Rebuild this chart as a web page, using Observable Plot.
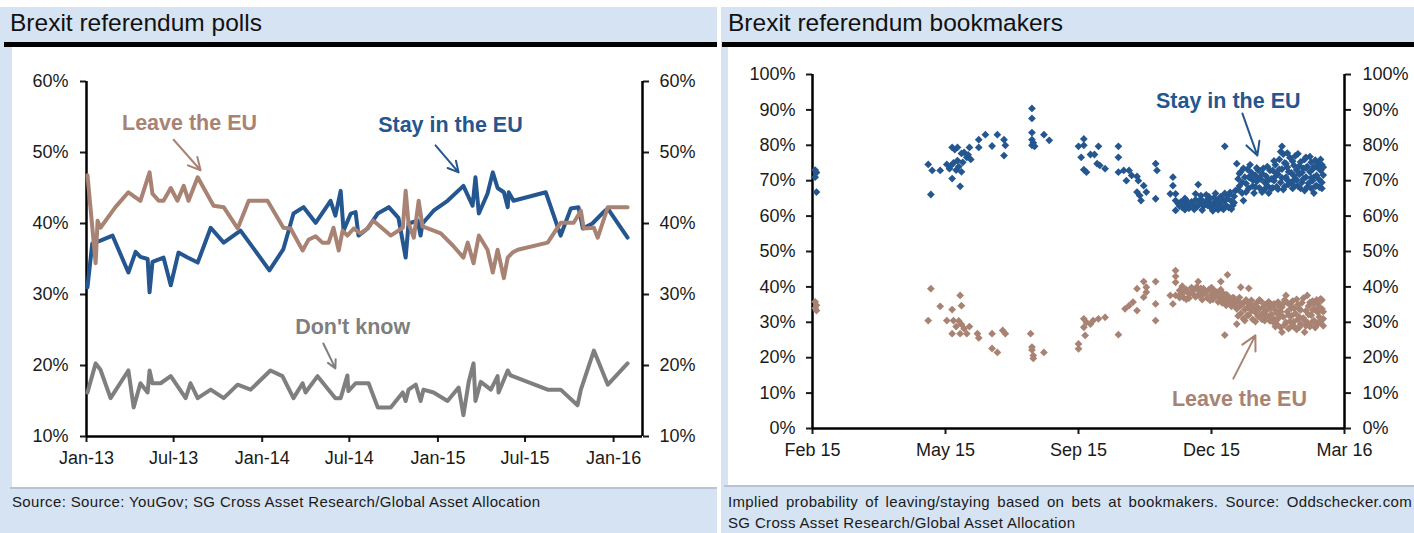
<!DOCTYPE html>
<html>
<head>
<meta charset="utf-8">
<script src="https://cdn.jsdelivr.net/npm/d3@7"></script>
<script src="https://cdn.jsdelivr.net/npm/@observablehq/plot@0.6"></script>
<style>
  html, body { margin: 0; padding: 0; }
  body { width: 1414px; height: 533px; background: #fff; position: relative; overflow: hidden;
         font-family: Arial, "Liberation Sans", Helvetica, sans-serif; color: #111; }
  .abs { position: absolute; }
  .bg { background: #d5e3f2; }
  .title { font-size: 24.5px; line-height: 28px; white-space: nowrap; color: #111; }
  .rule { background: #000; height: 5px; }
  .white { background: #fff; }
  .foot { font-size: 15px; line-height: 21px; letter-spacing: 0.35px; white-space: nowrap; color: #1a1a1a; }
  .footline { background: #b6c4d3; height: 2px; }
</style>
</head>
<body>
<div class="abs bg" style="left:0;top:7px;width:717px;height:526px"></div>
<div class="abs bg" style="left:721px;top:7px;width:693px;height:526px"></div>
<div class="abs title" style="left:10px;top:9px">Brexit referendum polls</div>
<div class="abs title" style="left:728px;top:9px">Brexit referendum bookmakers</div>
<div class="abs rule" style="left:4px;top:42px;width:713px"></div>
<div class="abs rule" style="left:722px;top:42px;width:692px"></div>
<div class="abs white" style="left:12px;top:47px;width:705px;height:440px"></div>
<div class="abs white" style="left:728px;top:47px;width:686px;height:438px"></div>
<div class="abs footline" style="left:10px;top:487px;width:707px"></div>
<div class="abs footline" style="left:724px;top:485px;width:690px"></div>
<div class="abs" id="pollChart" style="left:12px;top:48px"></div>
<div class="abs" id="bookChart" style="left:728px;top:48px"></div>
<div class="abs foot" style="left:12px;top:491px">Source: Source: YouGov; SG Cross Asset Research/Global Asset Allocation</div>
<div class="abs foot" style="left:728px;top:491px;word-spacing:2.6px">Implied probability of leaving/staying based on bets at bookmakers. Source: Oddschecker.com</div>
<div class="abs foot" style="left:728px;top:512px">SG Cross Asset Research/Global Asset Allocation</div>

<script>
// ---------------- colours ----------------
const BLUE = "#24568f";
const BROWN = "#a88373";
const GRAY = "#7f7f7f";

// ---------------- Left chart: YouGov polls (date, %) ----------------
const pollStay = [
  ["2013-01-03",31],["2013-01-13",37.2],["2013-01-30",37.6],["2013-02-24",38.3],["2013-03-29",33.1],
  ["2013-04-13",36],["2013-04-23",35.3],["2013-05-08",35],["2013-05-12",30.3],["2013-05-18",34.6],
  ["2013-06-10",35.2],["2013-06-25",31.3],["2013-07-11",35.9],["2013-07-30",35.2],["2013-08-20",34.5],
  ["2013-09-16",39.4],["2013-10-13",37.3],["2013-11-17",39],["2013-12-14",36.5],["2014-01-16",33.4],
  ["2014-02-14",36.4],["2014-03-07",41.4],["2014-03-28",42.3],["2014-04-22",40.1],["2014-05-23",43.2],
  ["2014-06-02",41.1],["2014-06-13",44.6],["2014-06-19",39],["2014-07-04",41.4],["2014-07-14",41.6],
  ["2014-07-20",38.3],["2014-08-08",39.3],["2014-08-29",41.4],["2014-09-21",42.3],["2014-10-11",40.8],
  ["2014-10-26",35.2],["2014-11-01",40],["2014-11-20",40.4],["2014-11-26",38.3],["2014-11-30",40],
  ["2014-12-23",41.8],["2015-01-21",43.2],["2015-02-23",45.3],["2015-03-14",42.5],["2015-03-20",46.5],
  ["2015-03-27",41.4],["2015-04-14",44.2],["2015-04-25",47.2],["2015-05-05",45],["2015-05-18",44.4],
  ["2015-05-26",42.3],["2015-05-28",44.4],["2015-06-07",43.2],["2015-08-13",44.4],["2015-09-13",38.3],
  ["2015-10-04",42.1],["2015-10-20",42.3],["2015-10-29",39.3],["2015-11-18",40],["2015-12-11",41.6],
  ["2015-12-20",42.1],["2016-01-30",38]
];
const pollLeave = [
  ["2013-01-03",46.8],["2013-01-20",34.4],["2013-01-24",40.4],["2013-01-30",39.4],["2013-03-02",42.3],
  ["2013-03-29",44.4],["2013-04-23",43.2],["2013-05-12",47.2],["2013-05-18",44.2],["2013-05-31",43.2],
  ["2013-06-10",43.2],["2013-06-25",45],["2013-07-09",43.2],["2013-07-22",45.3],["2013-08-01",43.2],
  ["2013-08-20",46.5],["2013-09-22",42.5],["2013-10-13",42.3],["2013-11-11",39.3],["2013-12-04",43.2],
  ["2014-01-12",43.2],["2014-02-14",39.4],["2014-03-01",39.3],["2014-03-26",36.2],["2014-04-07",37.7],
  ["2014-04-22",38.2],["2014-05-06",37.3],["2014-05-19",37.3],["2014-05-29",39.4],["2014-06-09",36.2],
  ["2014-06-17",39],["2014-06-27",38.3],["2014-07-10",39.3],["2014-07-24",38.6],["2014-08-08",39.3],
  ["2014-08-20",40.4],["2014-09-25",38.3],["2014-10-20",39.4],["2014-10-26",44.6],["2014-11-01",40],
  ["2014-11-12",38],["2014-11-22",43.2],["2014-11-30",39.6],["2015-01-07",38.6],["2015-02-01",36.9],
  ["2015-02-23",35.2],["2015-03-04",37.3],["2015-03-16",34.4],["2015-03-27",38.3],["2015-04-14",36.3],
  ["2015-04-25",33.1],["2015-05-05",36.3],["2015-05-18",32.3],["2015-05-26",35.2],["2015-06-05",35.9],
  ["2015-06-16",36.3],["2015-08-17",37.3],["2015-09-13",40.1],["2015-10-10",40.1],["2015-10-25",41.8],
  ["2015-10-31",39.3],["2015-11-21",39.4],["2015-11-29",38],["2015-12-20",42.3],["2016-01-30",42.3]
];
const pollDontKnow = [
  ["2013-01-03",16.2],["2013-01-20",20.3],["2013-01-30",19.4],["2013-02-20",15.4],["2013-03-29",19.3],
  ["2013-04-09",14.1],["2013-04-23",17.5],["2013-05-08",16.2],["2013-05-12",19.3],["2013-05-18",17.5],
  ["2013-06-04",17.5],["2013-06-25",18.5],["2013-07-26",15.4],["2013-08-05",17.5],["2013-08-20",15.4],
  ["2013-09-16",16.6],["2013-10-13",15.4],["2013-11-11",17.3],["2013-12-08",16.6],["2014-01-18",19.3],
  ["2014-02-12",18.5],["2014-03-07",15.4],["2014-03-26",17.5],["2014-04-01",16.2],["2014-04-26",18.5],
  ["2014-06-02",15.4],["2014-06-13",15.4],["2014-06-27",18.6],["2014-06-29",16.4],["2014-07-14",17.5],
  ["2014-08-10",17.5],["2014-08-29",14.1],["2014-09-25",14.1],["2014-10-20",16.2],["2014-10-26",15],
  ["2014-11-01",16.6],["2014-11-16",17.3],["2014-11-26",15],["2014-12-02",16.6],["2014-12-23",16.2],
  ["2015-01-21",15],["2015-02-13",16.9],["2015-02-23",13],["2015-03-06",17.7],["2015-03-16",20.3],
  ["2015-03-20",15],["2015-03-31",17.7],["2015-04-21",16.6],["2015-05-05",18.5],["2015-05-07",16.2],
  ["2015-05-26",19.3],["2015-06-01",18.6],["2015-08-17",16.6],["2015-09-13",16.6],["2015-10-18",14.4],
  ["2015-10-25",16.6],["2015-11-21",22.1],["2015-12-20",17.3],["2016-01-30",20.3]
];
const pollXDomain = ["2013-01-01", "2016-03-01"];
const pollXTicks = ["2013-01-01","2013-07-01","2014-01-01","2014-07-01","2015-01-01","2015-07-01","2016-01-01"];
const pollYTicks = [10, 20, 30, 40, 50, 60];
const pollNotes = [
  {text: "Leave the EU", date: "2013-08-03", value: 54.2, color: BROWN},
  {text: "Stay in the EU", date: "2015-01-27", value: 53.8, color: BLUE},
  {text: "Don't know", date: "2014-07-08", value: 25.4, color: GRAY}
];
const pollArrows = [
  {d1: "2013-07-01", v1: 51.8, d2: "2013-08-26", v2: 47.5, color: BROWN},
  {d1: "2014-12-27", v1: 51.0, d2: "2015-02-13", v2: 47.2, color: BLUE},
  {d1: "2014-05-08", v1: 23.1, d2: "2014-06-02", v2: 19.6, color: GRAY}
];

// ---------------- Right chart: bookmaker implied probability ----------------
// x = days since 20 Feb 2015, y = %
const bookStay = [
  [2,73],[3,72.3],[2,71],[3,66.8],
  [87,74.6],[89,66.1],[90,72.9],[96,72.9],[101,74.6],[103,73.4],[104,74.2],[105,70.6],[105,79.4],[106,75],
  [107,78.8],[108,73],[109,79.4],[109,75.7],[110,74],[111,68.4],[112,77.7],[112,72.5],[113,75.2],[114,78],
  [116,76.6],[117,77.3],[118,79.4],[119,76],[125,81.6],[125,79.4],[130,83],[135,79.8],[139,83],[144,81.6],
  [144,77.1],[145,80],
  [165,90.4],[165,87.6],[165,83.6],[165,81.6],[165,80],[166,80.7],[167,79.7],[174,83],[178,81.4],
  [200,79.7],[204,81.8],[204,80],[202,76.6],[204,73.1],[206,72.4],[209,77.4],[212,77.4],[215,79.7],
  [214,74.8],[216,74.3],[220,73.4],[230,79.7],[230,76.6],[230,72.4],[234,72.9],[238,72.9],[236,70],
  [240,71.5],[244,71.2],[245,70],[249,68.6],[244,66.8],[246,65.8],[247,64.4],[251,66.8],[258,64.9],
  [258,74.8],[259,72.9],[271,71],[271,68.6],[269,66.3],[273,66.3],[273,64.4],[273,61.6],[275,63.5],
  [290,68.9],[310,79.7],[319,74.8],
  [277,64],[278,62.5],[279,63.8],[281,64.5],[282,63],[283,62.2],[285,64],[286,63.2],[288,64.6],[289,62.6],
  [291,63.7],[292,64.8],[294,62.8],[295,63.9],[297,63],[298,64.6],[300,62.2],[301,63.5],[302,65.2],[303,62.7],
  [304,64.1],[305,61.8],[306,63.4],[307,65.5],[308,62.3],[309,64.3],[310,66.4],[311,63],[312,65],[313,62.4],
  [314,66.7],[315,64.2],[316,63],[317,65.6],[318,67.2],[288,66.3],[296,66],[303,66.4],
  [276,62.8],[280,61.8],[284,63.5],[287,61.9],[290,63.2],[293,61.7],[296,64.2],[299,63.4],[301,61.5],[304,62.6],
  [306,65],[309,61.9],[311,64.7],[313,66],[315,62],[317,63.8],[280,65],[292,65.8],[298,65.5],
  [320,70.5],[321,68.5],[322,72.5],[323,66.5],[324,64.4],[325,71],[326,69.2],[327,73.2],[328,67.8],
  [329,70.8],[330,72.3],[331,68.5],[332,66.5],[333,71.5],[334,69.8],[335,73],[336,68],[337,70.5],[338,72],
  [339,67.2],[340,69.5],[341,71.3],[342,68.6],[343,70.2],[344,72.9],[345,67.8],
  [320,67.5],[321,72],[323,69.5],[324,73.5],[326,66.8],[328,71],[329,74.5],[331,70.2],[333,68.2],[334,73.6],
  [336,70.8],[338,66.8],[339,73.5],[341,68],[342,74],[343,66.5],[345,70.5],
  [346,72.9],[347,70],[348,74.5],[349,68.3],[350,71.8],[351,76],[352,69.5],[353,73.3],[353,79.7],[354,77.5],
  [354,67.5],[355,75],[356,71],[357,73.8],[358,69],[359,76.5],[360,72.2],[361,67.8],[362,74.3],[363,70.5],
  [364,73],[365,77.6],[365,68.5],[366,71.8],[367,75.3],[368,69.5],[369,73.5],[370,67.2],[371,76.6],[371,71],
  [372,74],[373,69.3],[374,72.5],[375,75.2],[376,70],[377,73.8],[378,68.4],[379,71.5],[380,74.8],[381,70.3],
  [382,72.9],[383,69.5],[384,71.6],[383,74.5],[349,72],[357,70.2],[362,71.4],[368,72.3],[375,70.8],[379,74],
  [346,68],[347,75.6],[348,71.2],[350,67.6],[351,73.2],[352,78.2],[353,70.8],[355,68.3],[356,74.8],[357,77.8],
  [358,72.5],[360,69.6],[361,75.5],[362,68.6],[363,77],[364,70.2],[366,74.2],[367,67.8],[369,70.5],[370,76],
  [371,73.6],[372,68.2],[374,76.8],[375,67.8],[376,73.2],[377,71],[378,75.8],[379,68.6],[381,73.6],[382,76],
  [383,67.8],[384,73.8],[381,68.2],[377,66.5]
];
const bookLeave = [
  [2,35.8],[3,34.8],[2,34],[3,33.3],
  [87,30.5],[89,39.5],[96,34.5],[101,30.5],[105,33.6],[105,26.8],[106,30.5],[108,28.8],[110,30.4],[111,26.8],
  [111,37.6],[112,29.4],[112,34.7],[114,28.2],[116,26.8],[118,28.8],[124,26.8],[125,25.6],[135,26.8],[135,22.6],
  [139,21.5],[143,27.7],[145,26.8],[164,26.8],[165,23],[165,22.2],[166,20.6],[166,19.8],[174,21.5],
  [200,23.9],[200,22.5],[204,31],[204,28.6],[205,26.3],[206,30],[209,29.5],[211,30.5],[215,31],[220,31.4],
  [230,26.5],[235,33.8],[238,34.7],[241,35.7],[244,33.3],[244,39.5],[249,41.5],[251,38.5],[251,39.9],[249,37.1],
  [258,41.5],[258,35.2],[258,30.5],[273,44.6],[273,43],[273,41.3],[273,37.6],[271,35.2],[269,37.6],[276,39],
  [290,41.5],[307,41.5],[312,43.4],[310,26.4],[322,39.9],[328,39.6],
  [277,38],[278,40.2],[279,37],[281,39.2],[282,38.4],[283,36.8],[285,39.8],[286,38],[288,37.2],[289,40],
  [291,38.6],[292,37.4],[294,39.5],[295,38.2],[297,36.8],[298,39.2],[300,37.8],[301,36.5],[302,39],[303,37.3],
  [304,38.5],[305,35.8],[306,38.8],[307,37],[308,35.5],[309,38],[310,36.5],[311,34.8],[312,37.6],[313,35.6],
  [314,36.6],[315,34.5],[316,37],[317,35.2],[318,36.3],
  [276,37],[280,38.8],[281,36.5],[284,38.2],[287,39.3],[290,37.6],[292,39.6],[293,36.4],[296,38.6],[299,36.2],
  [300,39.8],[303,38.4],[305,37.4],[307,39.2],[309,36.4],[311,37.8],[313,36.8],[315,36],[317,36.8],[318,34.5],
  [319,33.8],[320,36],[321,34.5],[322,32.5],[323,35.2],[324,31],[325,33.6],[326,36.3],[327,34.2],[328,32],
  [329,35],[330,33.3],[331,30.8],[332,34.6],[333,32.8],[334,35.5],[335,31.7],[336,33.8],[337,36],[338,32.4],
  [339,34.3],[340,30.5],[341,33.2],[342,35.3],[343,31.6],[344,34],[345,32.3],[319,29.5],
  [320,31.8],[321,37],[322,34.8],[324,35.5],[325,30.5],[327,32],[328,35.4],[330,36.2],[331,33.6],[333,30.2],
  [335,34],[336,36.3],[338,30.8],[340,35],[341,31.8],[343,35.8],[344,30.4],[345,34.8],
  [346,34.8],[347,31],[348,33.5],[349,29.5],[350,35.7],[351,32.2],[352,28.5],[353,34.3],[353,27.2],[354,31.5],
  [355,36.3],[356,37.6],[356,30],[357,33],[358,28.2],[359,35],[360,31.8],[361,29],[362,34],[363,32.5],
  [364,36.5],[364,28],[365,30.8],[366,33.7],[367,29.5],[368,35.5],[369,31.2],[370,27.2],[371,33.2],[372,37.6],
  [372,30],[373,34.6],[374,28.8],[375,32],[376,36],[377,30.5],[378,33.5],[379,29.2],[380,35.2],[381,31.5],
  [382,30],[383,33.8],[384,31],[383,36.3],[351,34.5],[358,32],[366,31.5],[373,32.2],[380,32.8],
  [346,30.2],[347,35.2],[348,28.8],[349,32.6],[350,31],[352,33],[354,35.3],[355,29.3],[357,35.5],[359,30.2],
  [360,34],[361,36],[362,30.2],[363,28.5],[365,35],[366,28.6],[367,33.5],[369,36.8],[370,30.6],[371,29],
  [374,35.6],[375,29.8],[376,33.5],[377,35.2],[378,28.5],[379,36.3],[380,29.8],[381,34.2],[382,36.6],[384,33],
  [384,29]
];
const bookXDomain = [0, 400];
const bookXTicks = [0, 100, 200, 300, 400];
const bookXTickLabels = ["Feb 15", "May 15", "Sep 15", "Dec 15", "Mar 16"];
const bookYTicks = [0, 10, 20, 30, 40, 50, 60, 70, 80, 90, 100];
const bookNotes = [
  {text: "Stay in the EU", day: 312.6, value: 92.4, color: BLUE},
  {text: "Leave the EU", day: 321, value: 8.2, color: BROWN}
];
const bookArrows = [
  {d1: 323.2, v1: 89, d2: 334.5, v2: 77.1, color: BLUE},
  {d1: 316.4, v1: 14.1, d2: 333, v2: 26.3, color: BROWN}
];

// ---------------- drawing ----------------
const pct = d => d + "%";
const FONT = "Arial, 'Liberation Sans', Helvetica, sans-serif";
const baseStyle = {background: "transparent", fontFamily: FONT, fontSize: "18px", color: "#1a1a1a", overflow: "visible"};
const D = s => new Date(s + "T00:00:00Z");

const poll = Plot.plot({
  width: 705, height: 439,
  marginLeft: 74, marginRight: 75, marginTop: 33, marginBottom: 51,
  style: baseStyle,
  x: {type: "utc", domain: pollXDomain.map(D)},
  y: {domain: [10, 60]},
  marks: [
    Plot.axisY({anchor: "left", ticks: pollYTicks, tickFormat: pct, tickSize: 6, tickPadding: 12, strokeWidth: 2, label: null}),
    Plot.axisY({anchor: "right", ticks: pollYTicks, tickFormat: pct, tickSize: 6, tickPadding: 11, strokeWidth: 2, label: null}),
    Plot.axisX({ticks: pollXTicks.map(D), tickFormat: d3.utcFormat("%b-%y"), tickSize: 6, tickPadding: 9, strokeWidth: 2, label: null}),
    Plot.ruleX(pollXDomain.map(D), {stroke: "#000", strokeWidth: 2.5}),
    Plot.ruleY([10], {stroke: "#000", strokeWidth: 2.5}),
    Plot.line(pollStay, {x: d => D(d[0]), y: d => d[1], stroke: BLUE, strokeWidth: 4, strokeLinejoin: "round"}),
    Plot.line(pollLeave, {x: d => D(d[0]), y: d => d[1], stroke: BROWN, strokeWidth: 4, strokeLinejoin: "round"}),
    Plot.line(pollDontKnow, {x: d => D(d[0]), y: d => d[1], stroke: GRAY, strokeWidth: 4, strokeLinejoin: "round"}),
    Plot.arrow(pollArrows, {x1: d => D(d.d1), y1: "v1", x2: d => D(d.d2), y2: "v2", stroke: d => d.color, strokeWidth: 2, headLength: 12, headAngle: 55}),
    Plot.text(pollNotes, {x: d => D(d.date), y: "value", text: "text", fill: d => d.color, fontSize: 21.5, fontWeight: "bold", textAnchor: "middle", lineAnchor: "middle"})
  ]
});
document.getElementById("pollChart").appendChild(poll);

const book = Plot.plot({
  width: 686, height: 437,
  marginLeft: 84, marginRight: 70, marginTop: 26, marginBottom: 57,
  style: baseStyle,
  x: {domain: bookXDomain},
  y: {domain: [0, 100]},
  marks: [
    Plot.axisY({anchor: "left", ticks: bookYTicks, tickFormat: pct, tickSize: 6, tickPadding: 11, strokeWidth: 2, label: null}),
    Plot.axisY({anchor: "right", ticks: bookYTicks, tickFormat: pct, tickSize: 6, tickPadding: 12, strokeWidth: 2, label: null}),
    Plot.axisX({ticks: bookXTicks, tickFormat: d => bookXTickLabels[bookXTicks.indexOf(d)], tickSize: 6, tickPadding: 9, strokeWidth: 2, label: null}),
    Plot.ruleX(bookXDomain, {stroke: "#000", strokeWidth: 2.5}),
    Plot.ruleY([0], {stroke: "#000", strokeWidth: 2.5}),
    Plot.dot(bookStay, {x: d => d[0], y: d => d[1], symbol: "diamond2", r: 3.5, fill: BLUE, stroke: "none"}),
    Plot.dot(bookLeave, {x: d => d[0], y: d => d[1], symbol: "diamond2", r: 3.5, fill: BROWN, stroke: "none"}),
    Plot.arrow(bookArrows, {x1: "d1", y1: "v1", x2: "d2", y2: "v2", stroke: d => d.color, strokeWidth: 2, headLength: 12, headAngle: 55}),
    Plot.text(bookNotes, {x: "day", y: "value", text: "text", fill: d => d.color, fontSize: 21.5, fontWeight: "bold", textAnchor: "middle", lineAnchor: "middle"})
  ]
});
document.getElementById("bookChart").appendChild(book);
</script>
</body>
</html>
